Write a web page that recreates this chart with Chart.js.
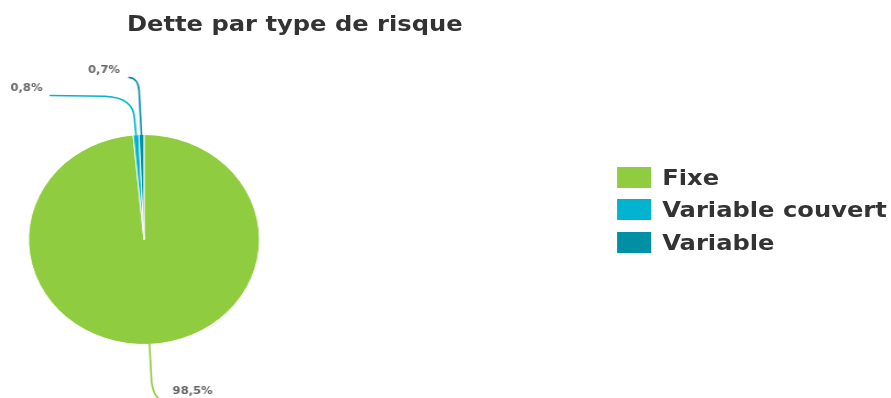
<!DOCTYPE html>
<html>
<head>
<meta charset="utf-8">
<script src="https://cdn.jsdelivr.net/npm/chart.js@4.4.0/dist/chart.umd.min.js"></script>
<style>
  html, body { margin: 0; padding: 0; background: #fff; overflow: hidden; }
  /* whole block drawn slightly narrow, then widened */
  #stage { position: relative; width: 810px; height: 398px; transform: scaleX(1.1); transform-origin: 0 0; font-family: "DejaVu Sans", sans-serif; }
  #title { position: absolute; left: 0; top: 11px; width: 536px; text-align: center; font-size: 22px; line-height: 26px; font-weight: bold; color: #333; }
  #chart-box { position: absolute; left: 0; top: 0; width: 536px; height: 398px; }
  #legend { position: absolute; left: 561px; top: 161px; }
  .legend-row { display: flex; align-items: center; height: 32.5px; font-size: 22px; font-weight: bold; color: #333; white-space: nowrap; }
  .legend-swatch { width: 31px; height: 21px; margin-right: 10px; }
</style>
</head>
<body>
<div id="stage">
  <div id="title">Dette par type de risque</div>
  <div id="chart-box"><canvas id="riskChart"></canvas></div>
  <div id="legend"></div>
</div>

<script>
const categories = ['Fixe', 'Variable couvert', 'Variable'];
const shares = [98.5, 0.8, 0.7];
const sliceColors = ['#90cc40', '#00b4cf', '#0090a6'];

const formatPct = v => v.toFixed(1).replace('.', ',') + '%';

// connector shapes, relative to the point where each slice meets the rim
const leaders = [
  { elbow: [2, 38], bend: [4, 55], end: [14, 57], tail: null, text: [21, 46.5], align: 'left' },
  { elbow: [-1.5, -17], bend: [-2.6, -37], end: [-28, -38.5], tail: [-78, -39.2], text: [-85, -46.5], align: 'right' },
  { elbow: [-2.2, -44], bend: [-3.1, -56.5], end: [-11.3, -57], tail: null, text: [-19.5, -64.5], align: 'right' }
];

const leaderLines = {
  id: 'leaderLines',
  afterDatasetsDraw(chart) {
    const { ctx } = chart;
    const arcs = chart.getDatasetMeta(0).data;
    ctx.save();
    arcs.forEach((arc, i) => {
      const { x, y, startAngle, endAngle, outerRadius } =
        arc.getProps(['x', 'y', 'startAngle', 'endAngle', 'outerRadius'], true);
      const mid = (startAngle + endAngle) / 2;
      const ex = x + Math.cos(mid) * outerRadius;
      const ey = y + Math.sin(mid) * outerRadius;
      const L = leaders[i];

      ctx.strokeStyle = sliceColors[i];
      ctx.lineWidth = 1.6;
      ctx.lineCap = 'round';
      ctx.beginPath();
      ctx.moveTo(ex, ey);
      ctx.lineTo(ex + L.elbow[0], ey + L.elbow[1]);
      ctx.quadraticCurveTo(ex + L.bend[0], ey + L.bend[1], ex + L.end[0], ey + L.end[1]);
      if (L.tail) ctx.lineTo(ex + L.tail[0], ey + L.tail[1]);
      ctx.stroke();

      ctx.fillStyle = '#666';
      ctx.font = 'bold 10.5px "DejaVu Sans"';
      ctx.textAlign = L.align;
      ctx.textBaseline = 'middle';
      ctx.fillText(formatPct(shares[i]), ex + L.text[0], ey + L.text[1]);
    });
    ctx.restore();
  }
};

new Chart(document.getElementById('riskChart'), {
  type: 'pie',
  data: {
    labels: categories,
    datasets: [{
      data: shares,
      backgroundColor: sliceColors,
      borderColor: '#fff',
      borderWidth: 1
    }]
  },
  options: {
    responsive: true,
    maintainAspectRatio: false,
    animation: false,
    layout: { padding: { left: 25.4, right: 299.6, top: 134, bottom: 53 } },
    plugins: {
      legend: { display: false },
      title: { display: false },
      tooltip: { enabled: false }
    }
  },
  plugins: [leaderLines]
});

document.getElementById('legend').innerHTML = categories.map((name, i) => `
  <div class="legend-row">
    <span class="legend-swatch" style="background:${sliceColors[i]};"></span>${name}
  </div>
`).join('');
</script>
</body>
</html>
